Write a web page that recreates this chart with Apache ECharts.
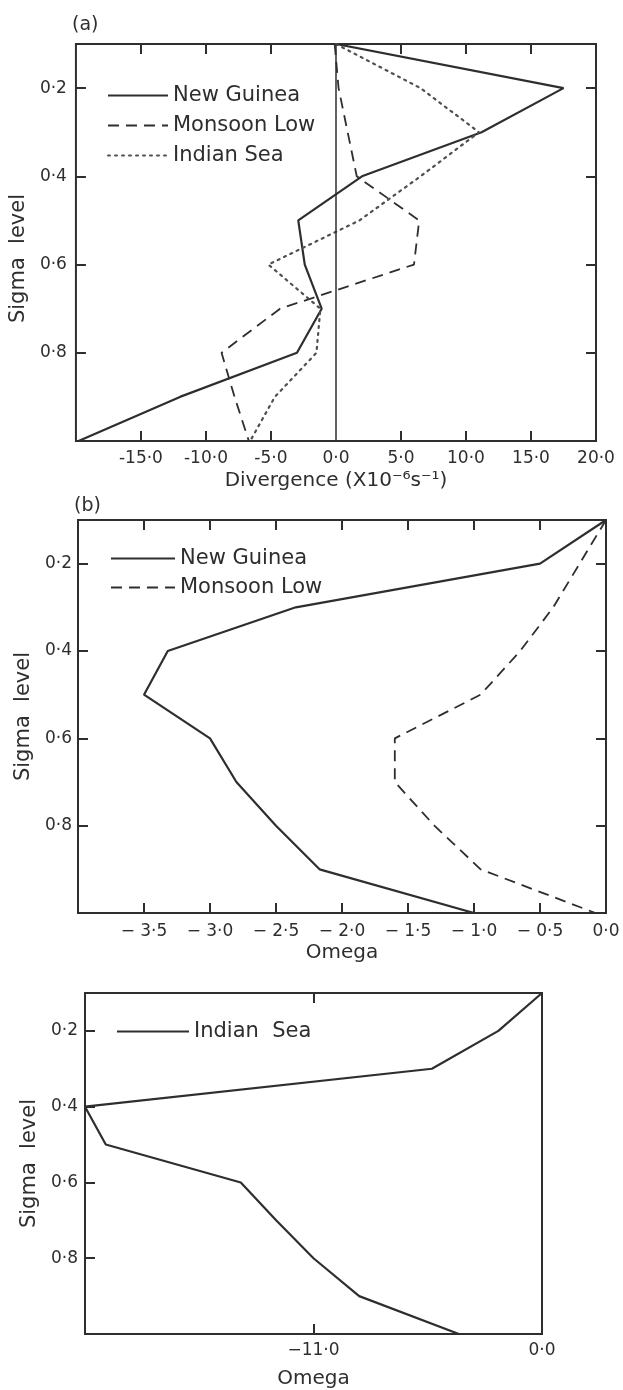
<!DOCTYPE html>
<html><head><meta charset="utf-8">
<script src="https://cdn.jsdelivr.net/npm/echarts@6/dist/echarts.min.js"></script>
<style>html,body{margin:0;padding:0;background:#fff}#c{width:623px;height:1390px}</style>
</head><body><div id="c"></div>
<script>
// ---- data ----
const sigmaLevels = [0.1, 0.2, 0.3, 0.4, 0.5, 0.6, 0.7, 0.8, 0.9, 1.0];
// (a) Divergence (x10^-6 s^-1)
const divNewGuinea  = [0.0, 17.5, 11.2, 2.0, -2.9, -2.4, -1.1, -3.0, -12.0, -19.8];
const divMonsoonLow = [-0.1, 0.2, 0.9, 1.6, 6.4, 6.0, -4.3, -8.8, -7.8, -6.7];
const divIndianSea  = [0.0, 6.5, 11.0, 6.5, 1.8, -5.2, -1.2, -1.5, -4.7, -6.6];
// (b) Omega
const omegaNewGuinea  = [0.0, -0.5, -2.35, -3.32, -3.5, -3.0, -2.8, -2.5, -2.17, -1.0];
const omegaMonsoonLow = [0.0, -0.2, -0.4, -0.65, -0.95, -1.6, -1.6, -1.3, -0.95, -0.08];
// (c) Omega, Indian Sea
const omegaIndianSea  = [0.0, -2.1, -5.3, -22.0, -21.0, -14.5, -12.8, -11.0, -8.8, -4.0];
// tick positions / labels
const sigmaTicks   = [0.2, 0.4, 0.6, 0.8];
const divTickMarks = [-15, -10, -5, 5, 10, 15];
const divTicks     = [-15, -10, -5, 0, 5, 10, 15, 20];
const omegaBTicks  = [-3.5, -3.0, -2.5, -2.0, -1.5, -1.0, -0.5, 0.0];
const omegaCTicks  = [-11, 0];

const pairs = arr => sigmaLevels.map((s, i) => [arr[i], s]);
const fmtDot = (v, minus) => (v < 0 ? minus : '') + Math.abs(v).toFixed(1).replace('.', '·');

const INK = '#2e2e2e';
const FONT = 'DejaVu Sans';
const tickLabel = {fontFamily: FONT, fontSize: 17, color: INK};
const nameStyle = {fontFamily: FONT, fontSize: 20, color: INK};
const tickLine = {color: INK, width: 2};

function xBottom(grid, min, max, interval, ticks, labels, minus, name, gap, lblMargin) {
  return {
    type: 'value', gridIndex: grid, position: 'bottom', min, max, interval,
    axisLine: {show: false, onZero: false}, splitLine: {show: false},
    axisTick: {show: true, inside: true, length: 10, customValues: ticks, lineStyle: tickLine},
    axisLabel: {show: true, customValues: labels, margin: lblMargin, formatter: v => fmtDot(v, minus), ...tickLabel},
    name, nameLocation: 'middle', nameGap: gap, nameTextStyle: nameStyle
  };
}
function xTop(grid, min, max, interval, ticks) {
  return {
    type: 'value', gridIndex: grid, position: 'top', min, max, interval,
    axisLine: {show: false, onZero: false}, splitLine: {show: false}, axisLabel: {show: false},
    axisTick: {show: true, inside: true, length: 10, customValues: ticks, lineStyle: tickLine}
  };
}
function yLeft(grid, gap, lblMargin, namePad) {
  return {
    type: 'value', gridIndex: grid, position: 'left', min: 0.1, max: 1.0, inverse: true,
    axisLine: {show: false, onZero: false}, splitLine: {show: false},
    axisTick: {show: true, inside: true, length: 10, customValues: sigmaTicks, lineStyle: tickLine},
    axisLabel: {show: true, customValues: sigmaTicks, margin: lblMargin, formatter: v => fmtDot(v, '-'), ...tickLabel},
    name: 'Sigma  level', nameLocation: 'middle', nameGap: gap,
    nameTextStyle: {...nameStyle, fontSize: 21, padding: namePad}
  };
}
function yRight(grid) {
  return {
    type: 'value', gridIndex: grid, position: 'right', min: 0.1, max: 1.0, inverse: true,
    axisLine: {show: false, onZero: false}, splitLine: {show: false}, axisLabel: {show: false},
    axisTick: {show: true, inside: true, length: 10, customValues: sigmaTicks, lineStyle: tickLine}
  };
}

const gridStyle = {show: true, borderColor: INK, borderWidth: 2, backgroundColor: 'transparent'};
const solid  = {color: INK, width: 2.2, type: 'solid'};
const dashed = {color: INK, width: 1.8, type: [11, 7]};
const dotted = {color: '#505050', width: 2.2, type: [2, 5], cap: 'round'};
const legendBase = {orient: 'vertical', itemHeight: 14, selectedMode: false,
  itemStyle: {opacity: 0}, textStyle: {fontFamily: FONT, fontSize: 21, color: INK}};

const option = {
  animation: false,
  backgroundColor: '#fff',
  grid: [
    {left: 72, top: 44, width: 524, height: 397, ...gridStyle},
    {left: 78, top: 520, width: 528, height: 393, ...gridStyle},
    {left: 85, top: 993, width: 457, height: 341, ...gridStyle}
  ],
  xAxis: [
    xBottom(0, -20, 20, 5, divTickMarks, divTicks, '-', 'Divergence (X10⁻⁶s⁻¹)', 30, 9),
    xTop(0, -20, 20, 5, divTickMarks),
    xBottom(1, -4, 0, 0.5, omegaBTicks, omegaBTicks, '− ', 'Omega', 30, 10),
    xTop(1, -4, 0, 0.5, omegaBTicks),
    xBottom(2, -22, 0, 11, omegaCTicks, omegaCTicks, '−', 'Omega', 35, 8),
    xTop(2, -22, 0, 11, omegaCTicks)
  ],
  yAxis: [
    yLeft(0, 39, 9, [0, 32, 0, 0]), yRight(0),
    yLeft(1, 37, 6, 0), yRight(1),
    yLeft(2, 38, 7, 0)
  ],
  legend: [
    {...legendBase, data: ['New Guinea', 'Monsoon Low', 'Indian Sea'], left: 102, top: 80,
     itemWidth: 60, itemGap: 9},
    {...legendBase, data: ['New Guinea', 'Monsoon Low'], left: 105, top: 543,
     itemWidth: 64, itemGap: 8},
    {...legendBase, data: ['Indian  Sea'], left: 111, top: 1016, itemWidth: 72}
  ],
  graphic: [
    {type: 'text', x: 72, y: 25, style: {text: '(a)', fontFamily: FONT, fontSize: 19, fill: INK, verticalAlign: 'middle'}},
    {type: 'text', x: 74, y: 506, style: {text: '(b)', fontFamily: FONT, fontSize: 19, fill: INK, verticalAlign: 'middle'}}
  ],
  series: [
    {name: 'New Guinea', type: 'line', xAxisIndex: 0, yAxisIndex: 0, data: pairs(divNewGuinea),
     symbol: 'none', color: INK, lineStyle: solid,
     markLine: {silent: true, symbol: ['none', 'none'], label: {show: false},
                lineStyle: {color: INK, width: 1.5, type: 'solid'}, data: [{xAxis: 0}]}},
    {name: 'Monsoon Low', type: 'line', xAxisIndex: 0, yAxisIndex: 0, data: pairs(divMonsoonLow),
     symbol: 'none', color: INK, lineStyle: dashed},
    {name: 'Indian Sea', type: 'line', xAxisIndex: 0, yAxisIndex: 0, data: pairs(divIndianSea),
     symbol: 'none', color: '#505050', lineStyle: dotted},
    {name: 'New Guinea', type: 'line', xAxisIndex: 2, yAxisIndex: 2, data: pairs(omegaNewGuinea),
     symbol: 'none', color: INK, lineStyle: solid},
    {name: 'Monsoon Low', type: 'line', xAxisIndex: 2, yAxisIndex: 2, data: pairs(omegaMonsoonLow),
     symbol: 'none', color: INK, lineStyle: dashed},
    {name: 'Indian  Sea', type: 'line', xAxisIndex: 4, yAxisIndex: 4, data: pairs(omegaIndianSea),
     symbol: 'none', color: INK, lineStyle: solid}
  ]
};
const chart = echarts.init(document.getElementById('c'), null, {renderer: 'canvas'});
chart.setOption(option);
</script></body></html>
